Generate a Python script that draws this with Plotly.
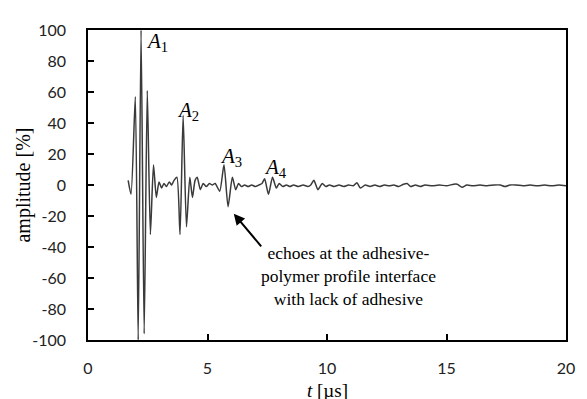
import plotly.graph_objects as go

# ---- data ----
t_us = [1.68, 1.80, 1.98, 2.10, 2.22, 2.35, 2.48, 2.61, 2.74, 2.86, 2.97, 3.08, 3.18, 3.28,
        3.40, 3.50, 3.60, 3.72, 3.85, 3.98, 4.12, 4.26, 4.37, 4.48, 4.57, 4.70, 4.82, 4.95,
        5.08, 5.20, 5.32, 5.51, 5.69, 5.86, 6.04, 6.18, 6.30, 6.42, 6.55, 6.70, 6.85, 7.00,
        7.15, 7.28, 7.39, 7.55, 7.72, 7.88, 8.00, 8.15, 8.30, 8.45, 8.60, 8.80, 9.00, 9.20,
        9.32, 9.45, 9.62, 9.80, 9.95, 10.10, 10.30, 10.50, 10.70, 10.90, 11.10, 11.25, 11.40,
        11.60, 11.80, 12.00, 12.20, 12.40, 12.60, 12.80, 13.00, 13.20, 13.35, 13.50, 13.70,
        13.90, 14.10, 14.40, 14.70, 15.00, 15.30, 15.45, 15.65, 15.85, 16.10, 16.40, 16.70,
        17.00, 17.25, 17.45, 17.65, 17.90, 18.20, 18.50, 18.80, 19.10, 19.40, 19.70, 20.00]
amplitude = [3, -6, 57, -100, 100, -96, 61, -32, 13, -8, 2, -2, 1, -1,
             2, 0, 3, 5, -32, 45, -27, 5, -8, 3, 5, -3, 1, -1,
             1, 0, 1, -4, 13, -14, 5, -3, 1, -1, 0, -1, 0, -1,
             0, 1, 4, -6, 5, -2, 1, -1, 0, -1, 0, -1, 0, -1,
             0, 3, -3, 1, -1, 0, -1, 0, -1, 0, -0.5, 1.5, -2,
             0, -1, 0, -1, 0, -0.5, 0, -1, 0.5, 1, -1, 0,
             -1, 0, -0.5, 0, -0.5, 0.5, 0.5, -1.5, 0, -0.5, 0, -0.5,
             0, 0, -1, 0, 0, -0.5, 0, -0.5, 0, -0.5, 0, -0.5]

x_tickvals = [0, 5, 10, 15, 20]
x_ticktext = ["0", "5", "10", "15", "20"]
y_tickvals = [100, 80, 60, 40, 20, 0, -20, -40, -60, -80, -100]
y_ticktext = ["100", "80", "60", "40", "20", "0", "-20", "-40", "-60", "-80", "-100"]

echo_labels = ["<i>A</i><sub>1</sub>", "<i>A</i><sub>2</sub>", "<i>A</i><sub>3</sub>", "<i>A</i><sub>4</sub>"]
echo_label_t = [2.36, 3.62, 5.43, 7.27]
echo_label_amp = [92.0, 48.0, 18.0, 11.0]

note_text = "echoes at the adhesive-<br>polymer profile interface<br>with lack of adhesive"
x_title = "<i>t</i> [µs]"
y_title = "amplitude [%]"

SERIF = "Liberation Serif, Times New Roman, serif"
SANS = "Lato, Carlito, sans-serif"

fig = go.Figure()
fig.add_trace(go.Scatter(
    x=t_us, y=amplitude, mode="lines",
    line=dict(color="#3a3a3a", width=1.5, shape="spline", smoothing=0.6),
    showlegend=False, hoverinfo="skip",
))

for txt, tx, ty in zip(echo_labels, echo_label_t, echo_label_amp):
    fig.add_annotation(x=tx, y=ty, text=txt, showarrow=False, xanchor="left", yanchor="middle",
                       font=dict(family=SERIF, size=21, color="black"))

# arrow pointing at the A3 echo
fig.add_annotation(x=6.10, y=-18.5, ax=7.30, ay=-40.5, axref="x", ayref="y", xref="x", yref="y",
                   text="", showarrow=True, arrowhead=2, arrowsize=1.1, arrowwidth=2, arrowcolor="black")
fig.add_annotation(x=10.9, y=-59, text=note_text, showarrow=False, xanchor="center", yanchor="middle",
                   align="center", font=dict(family=SERIF, size=17.5, color="black"))

# axis titles
fig.add_annotation(x=0.5, y=-0.163, xref="paper", yref="paper", text=x_title, showarrow=False,
                   xanchor="center", yanchor="middle", font=dict(family=SERIF, size=19, color="black"))
fig.add_annotation(x=-0.137, y=0.5, xref="paper", yref="paper", text=y_title, showarrow=False,
                   textangle=-90, xanchor="center", yanchor="middle",
                   font=dict(family=SERIF, size=20, color="black"))

# the page body has an 8px margin, so the figure is 8px smaller than the window
fig.update_layout(
    width=579, height=391,
    margin=dict(l=80, r=19, t=12, b=59),
    paper_bgcolor="white", plot_bgcolor="white",
    xaxis=dict(range=[0, 20], tickvals=x_tickvals, ticktext=x_ticktext,
               showgrid=False, zeroline=False, showline=True, mirror=True,
               linecolor="black", linewidth=1.5, ticks="inside", ticklen=6, tickwidth=1.5,
               tickcolor="black", tickfont=dict(family=SANS, size=16, color="#222"),
               ticklabelstandoff=13),
    yaxis=dict(range=[-100, 100], tickvals=y_tickvals, ticktext=y_ticktext,
               showgrid=False, zeroline=False, showline=True, mirror=True,
               linecolor="black", linewidth=1.5, ticks="inside", ticklen=6, tickwidth=1.5,
               tickcolor="black", tickfont=dict(family=SANS, size=16, color="#222"),
               ticklabelstandoff=17),
)

fig.write_html("out.html")
